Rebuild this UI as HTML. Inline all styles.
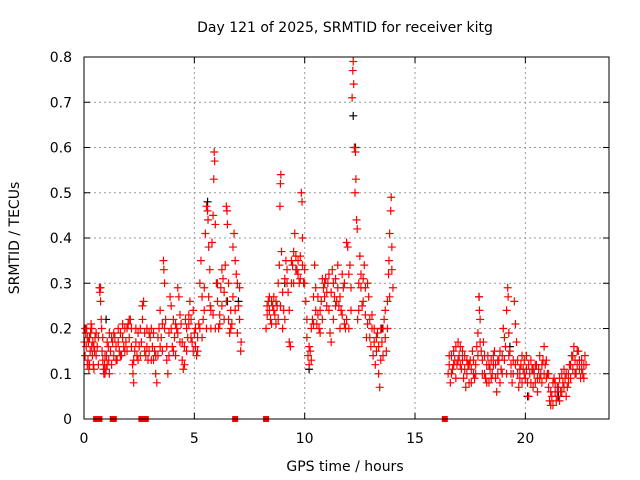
<!DOCTYPE html>
<html><head><meta charset="utf-8"><style>
body{margin:0;background:#fff;}
svg{display:block;font-family:"DejaVu Sans","Liberation Sans",sans-serif;}
</style></head><body>
<svg id="chart" width="640" height="480" viewBox="0 0 640 480" xmlns="http://www.w3.org/2000/svg">
<rect width="640" height="480" fill="#fff"/>
<text x="345" y="32" font-size="14" text-anchor="middle">Day 121 of 2025, SRMTID for receiver kitg</text>
<text x="345" y="471" font-size="14" text-anchor="middle">GPS time / hours</text>
<text x="0" y="0" font-size="14" text-anchor="middle" transform="translate(19,238) rotate(-90)">SRMTID / TECUs</text>
<g id="grid"></g>
<g id="ticks"></g>
<g id="marks"></g>
<rect x="84" y="57" width="525" height="362" fill="none" stroke="#000" stroke-width="1"/>
</svg>
<script>
const xTicks = [0,5,10,15,20];
const yTicks = [0,0.1,0.2,0.3,0.4,0.5,0.6,0.7,0.8];
const yTickLabels = ["0","0.1","0.2","0.3","0.4","0.5","0.6","0.7","0.8"];
const redData = [[0.02,.17],[0.05,.14],[0.08,.19],[0.1,.16],[0.12,.2],[0.15,.18],[0.18,.13],[0.2,.17],[0.22,.11],[0.25,.12],[0.28,.15],[0.3,.19],[0.32,.21],[0.35,.16],[0.38,.14],[0.4,.17],[0.42,.12],[0.45,.16],[0.48,.15],[0.5,.18],[0.55,.14],[0.6,.16],[0.65,.18],[0.7,.29],[0.72,.28],[0.75,.26],[0.78,.22],[0.8,.2],[0.82,.15],[0.85,.13],[0.88,.11],[0.9,.1],[0.93,.12],[0.95,.1],[1.0,.11],[1.02,.14],[1.05,.12],[1.1,.16],[1.12,.13],[1.15,.19],[1.2,.15],[1.25,.12],[1.3,.17],[1.35,.14],[1.4,.18],[1.45,.16],[1.5,.13],[1.55,.17],[1.6,.15],[1.65,.19],[1.7,.14],[1.75,.18],[1.8,.16],[1.85,.2],[1.9,.17],[1.95,.15],[2.0,.21],[2.05,.18],[2.1,.22],[2.15,.2],[2.2,.12],[2.22,.1],[2.25,.08],[2.3,.15],[2.35,.17],[2.4,.14],[2.45,.19],[2.5,.16],[2.55,.2],[2.6,.17],[2.65,.25],[2.7,.26],[2.75,.19],[2.8,.14],[2.85,.16],[2.9,.13],[2.95,.15],[3.0,.18],[3.05,.13],[3.1,.16],[3.15,.19],[3.2,.15],[3.25,.1],[3.3,.08],[3.35,.14],[3.4,.2],[3.45,.24],[3.5,.18],[3.55,.15],[3.6,.35],[3.62,.33],[3.65,.3],[3.7,.22],[3.75,.13],[3.8,.1],[3.85,.19],[3.9,.27],[3.95,.2],[4.0,.16],[4.05,.22],[4.1,.18],[4.15,.14],[4.2,.2],[4.25,.29],[4.3,.27],[4.35,.17],[4.4,.21],[4.45,.13],[4.5,.11],[4.55,.16],[4.6,.22],[4.65,.2],[4.7,.18],[4.75,.21],[4.8,.26],[4.85,.22],[4.9,.17],[4.95,.15],[5.0,.19],[5.05,.16],[5.1,.14],[5.15,.18],[5.2,.21],[5.25,.3],[5.3,.35],[5.35,.27],[5.4,.22],[5.45,.24],[5.5,.41],[5.55,.47],[5.6,.46],[5.62,.44],[5.65,.38],[5.7,.33],[5.72,.25],[5.75,.2],[5.8,.39],[5.85,.45],[5.88,.53],[5.9,.59],[5.92,.57],[5.95,.43],[6.0,.3],[6.05,.26],[6.1,.2],[6.15,.23],[6.2,.29],[6.25,.25],[6.3,.31],[6.35,.28],[6.4,.34],[6.45,.47],[6.48,.46],[6.5,.43],[6.55,.22],[6.6,.19],[6.65,.24],[6.7,.21],[6.75,.38],[6.8,.41],[6.85,.35],[6.9,.32],[6.95,.3],[7.0,.25],[7.05,.22],[7.1,.15],[7.12,.17],[8.25,.2],[8.3,.23],[8.35,.26],[8.4,.24],[8.45,.22],[8.5,.26],[8.55,.25],[8.6,.27],[8.65,.23],[8.7,.21],[8.75,.25],[8.8,.3],[8.85,.34],[8.88,.47],[8.9,.52],[8.92,.54],[8.95,.37],[9.0,.2],[9.05,.24],[9.1,.31],[9.15,.35],[9.2,.33],[9.25,.28],[9.3,.17],[9.35,.16],[9.4,.3],[9.45,.34],[9.5,.37],[9.55,.41],[9.6,.36],[9.65,.33],[9.7,.32],[9.75,.3],[9.8,.36],[9.85,.5],[9.88,.48],[9.9,.4],[9.95,.3],[10.0,.33],[10.05,.26],[10.1,.18],[10.15,.14],[10.2,.12],[10.25,.15],[10.3,.2],[10.35,.22],[10.4,.27],[10.45,.34],[10.5,.24],[10.55,.21],[10.6,.23],[10.65,.2],[10.7,.19],[10.75,.26],[10.8,.31],[10.85,.29],[10.9,.27],[10.95,.31],[11.0,.28],[11.05,.3],[11.1,.24],[11.15,.19],[11.2,.17],[11.25,.33],[11.3,.3],[11.35,.27],[11.4,.31],[11.45,.26],[11.5,.34],[11.55,.25],[11.6,.2],[11.65,.24],[11.7,.32],[11.75,.29],[11.8,.21],[11.85,.2],[11.9,.39],[11.95,.38],[12.0,.32],[12.05,.34],[12.1,.29],[12.15,.71],[12.18,.77],[12.2,.79],[12.22,.74],[12.25,.6],[12.28,.5],[12.3,.59],[12.32,.53],[12.35,.44],[12.38,.42],[12.4,.22],[12.45,.3],[12.5,.36],[12.55,.29],[12.6,.25],[12.65,.31],[12.7,.34],[12.75,.23],[12.8,.18],[12.85,.21],[12.9,.27],[12.95,.22],[13.0,.16],[13.05,.2],[13.1,.14],[13.15,.17],[13.2,.12],[13.25,.15],[13.3,.19],[13.35,.1],[13.4,.07],[13.45,.13],[13.5,.17],[13.55,.2],[13.6,.22],[13.65,.18],[13.7,.15],[13.75,.26],[13.8,.32],[13.82,.35],[13.85,.41],[13.9,.46],[13.92,.49],[13.95,.38],[14.0,.29],[16.5,.1],[16.55,.12],[16.6,.08],[16.65,.14],[16.7,.11],[16.75,.15],[16.8,.13],[16.85,.16],[16.9,.12],[16.95,.17],[17.0,.14],[17.05,.16],[17.1,.11],[17.15,.13],[17.2,.09],[17.25,.11],[17.3,.07],[17.35,.1],[17.4,.12],[17.45,.08],[17.5,.13],[17.55,.11],[17.6,.15],[17.65,.1],[17.7,.09],[17.75,.12],[17.8,.16],[17.85,.19],[17.9,.27],[17.92,.24],[17.95,.22],[18.0,.15],[18.05,.13],[18.1,.17],[18.15,.1],[18.2,.09],[18.25,.12],[18.3,.14],[18.35,.08],[18.4,.11],[18.45,.13],[18.5,.1],[18.55,.12],[18.6,.15],[18.65,.09],[18.7,.06],[18.75,.1],[18.8,.13],[18.85,.15],[18.9,.11],[18.95,.14],[19.0,.2],[19.05,.18],[19.1,.16],[19.15,.24],[19.2,.29],[19.22,.27],[19.25,.19],[19.3,.15],[19.35,.12],[19.4,.08],[19.45,.1],[19.5,.26],[19.55,.21],[19.6,.17],[19.65,.1],[19.7,.07],[19.75,.09],[19.8,.12],[19.85,.14],[19.9,.11],[19.95,.13],[20.0,.09],[20.05,.11],[20.1,.08],[20.15,.05],[20.2,.1],[20.25,.13],[20.3,.11],[20.35,.07],[20.4,.1],[20.45,.08],[20.5,.12],[20.55,.09],[20.6,.11],[20.65,.14],[20.7,.1],[20.75,.08],[20.8,.13],[20.85,.16],[20.9,.12],[20.95,.09],[21.0,.1],[21.05,.07],[21.1,.04],[21.15,.03],[21.2,.05],[21.25,.08],[21.3,.09],[21.35,.06],[21.4,.04],[21.45,.05],[21.5,.07],[21.55,.09],[21.6,.06],[21.65,.1],[21.7,.08],[21.75,.11],[21.8,.09],[21.85,.05],[21.9,.07],[21.95,.1],[22.0,.12],[22.05,.09],[22.1,.14],[22.15,.11],[22.2,.16],[22.25,.13],[22.3,.1],[22.35,.12],[22.4,.15],[22.45,.11],[22.5,.09],[22.55,.13],[22.6,.1],[22.65,.12],[22.7,.14]];
const redSpread = [[0.05,.2],[0.15,.12],[0.25,.18],[0.35,.2],[0.45,.11],[0.55,.19],[0.65,.12],[0.75,.29],[0.85,.18],[0.95,.14],[1.05,.17],[1.15,.1],[1.25,.18],[1.35,.19],[1.45,.13],[1.55,.2],[1.65,.14],[1.75,.21],[1.85,.15],[1.95,.2],[2.05,.22],[2.15,.16],[2.25,.13],[2.35,.2],[2.45,.13],[2.55,.14],[2.65,.22],[2.75,.15],[2.85,.2],[2.95,.19],[3.05,.2],[3.15,.13],[3.25,.14],[3.35,.18],[3.45,.16],[3.55,.21],[3.65,.2],[3.75,.16],[3.85,.14],[3.95,.25],[4.05,.15],[4.15,.21],[4.25,.19],[4.35,.23],[4.45,.17],[4.55,.12],[4.65,.15],[4.75,.23],[4.85,.18],[4.95,.24],[5.05,.2],[5.15,.15],[5.25,.2],[5.35,.18],[5.45,.29],[5.55,.2],[5.65,.27],[5.75,.24],[5.85,.23],[5.95,.2],[6.05,.3],[6.15,.21],[6.25,.33],[6.35,.22],[6.45,.26],[6.55,.3],[6.65,.2],[6.75,.27],[6.85,.24],[6.95,.19],[7.05,.29],[8.3,.25],[8.4,.27],[8.5,.21],[8.6,.24],[8.7,.26],[8.8,.22],[8.9,.25],[9.0,.28],[9.1,.22],[9.2,.3],[9.3,.24],[9.4,.35],[9.5,.3],[9.6,.33],[9.7,.35],[9.8,.31],[9.9,.34],[10.0,.3],[10.1,.22],[10.2,.16],[10.3,.13],[10.4,.21],[10.5,.29],[10.6,.27],[10.7,.24],[10.8,.22],[10.9,.3],[11.0,.25],[11.1,.32],[11.2,.28],[11.3,.22],[11.4,.25],[11.5,.29],[11.6,.27],[11.7,.23],[11.8,.3],[11.9,.22],[12.0,.2],[12.1,.24],[12.45,.24],[12.55,.32],[12.65,.26],[12.75,.29],[12.85,.3],[12.95,.18],[13.05,.23],[13.15,.2],[13.25,.18],[13.35,.16],[13.45,.2],[13.55,.14],[13.65,.24],[13.75,.2],[13.85,.27],[13.95,.33],[16.55,.14],[16.65,.1],[16.75,.12],[16.85,.09],[16.95,.13],[17.05,.12],[17.15,.15],[17.25,.14],[17.35,.13],[17.45,.12],[17.55,.08],[17.65,.13],[17.75,.1],[17.85,.14],[17.95,.17],[18.05,.1],[18.15,.14],[18.25,.08],[18.35,.12],[18.45,.09],[18.55,.14],[18.65,.12],[18.75,.13],[18.85,.08],[18.95,.1],[19.05,.13],[19.15,.1],[19.25,.14],[19.35,.1],[19.45,.13],[19.55,.12],[19.65,.13],[19.75,.11],[19.85,.08],[19.95,.1],[20.05,.14],[20.15,.12],[20.25,.08],[20.35,.11],[20.45,.12],[20.55,.06],[20.65,.09],[20.75,.12],[20.85,.1],[20.95,.13],[21.05,.1],[21.15,.06],[21.25,.03],[21.35,.08],[21.45,.07],[21.55,.04],[21.65,.06],[21.75,.07],[21.85,.1],[21.95,.08],[22.05,.12],[22.15,.14],[22.25,.1],[22.35,.15],[22.45,.13],[22.55,.11],[22.65,.09],[22.75,.12]];
const blackData = [[0.1,.2],[1.0,.22],[5.6,.48],[6.5,.26],[7.0,.26],[9.1,.3],[10.2,.11],[12.2,.67],[12.3,.6],[13.5,.2],[17.9,.27],[19.3,.16],[20.1,.05],[21.5,.05]];
const zeroHours = [0.55,0.6,0.65,0.7,1.3,1.35,2.6,2.8,6.85,8.25,16.35];

const X0=84, X1=609, Y0=419, Y1=57, XMAX=23.79, YMAX=0.8;
function xs(h){return X0+(h/XMAX)*(X1-X0);}
function ys(v){return Y0-(v/YMAX)*(Y0-Y1);}
const NS="http://www.w3.org/2000/svg";
const grid=document.getElementById('grid'), ticks=document.getElementById('ticks'), marks=document.getElementById('marks');
function mk(tag,attrs,parent){const e=document.createElementNS(NS,tag);for(const k in attrs)e.setAttribute(k,attrs[k]);parent.appendChild(e);return e;}

xTicks.forEach(t=>{
  const x=xs(t);
  if(t>0){const g=mk('line',{x1:x,x2:x,y1:Y1,y2:Y0,stroke:'#999','stroke-dasharray':'2,3'},grid);
  
  }
  mk('line',{x1:x,x2:x,y1:Y0,y2:Y0-6,stroke:'#000'},ticks);
  mk('line',{x1:x,x2:x,y1:Y1,y2:Y1+6,stroke:'#000'},ticks);
  const l=mk('text',{x:x,y:443,'font-size':14,'text-anchor':'middle'},ticks);l.textContent=t;
  
  
});
yTicks.forEach((t,i)=>{
  const y=ys(t);
  if(t>0&&t<YMAX){const g=mk('line',{x1:X0,x2:X1,y1:y,y2:y,stroke:'#999','stroke-dasharray':'2,3'},grid);
  
  }
  mk('line',{x1:X0,x2:X0+6,y1:y,y2:y,stroke:'#000'},ticks);
  mk('line',{x1:X1,x2:X1-6,y1:y,y2:y,stroke:'#000'},ticks);
  const l=mk('text',{x:72,y:y+5,'font-size':14,'text-anchor':'end'},ticks);l.textContent=yTickLabels[i];
  
  
});
function plus(h,v,color,name){
  const x=xs(h), y=ys(v);
  const p=mk('path',{d:`M${x-4},${y}H${x+4}M${x},${y-4}V${y+4}`,stroke:color,'stroke-width':1.2,fill:'none'},marks);
  
  
}
blackData.forEach(d=>plus(d[0],d[1],'#000','black-point'));
redData.forEach(d=>plus(d[0],d[1],'#f00','red-point'));
redSpread.forEach(d=>plus(d[0],d[1],'#f00','red-point'));
zeroHours.forEach(h=>{
  const r=mk('rect',{x:xs(h)-3,y:ys(0)-3,width:6,height:6,fill:'#f00'},marks);
  
  
});
</script>
</body></html>
